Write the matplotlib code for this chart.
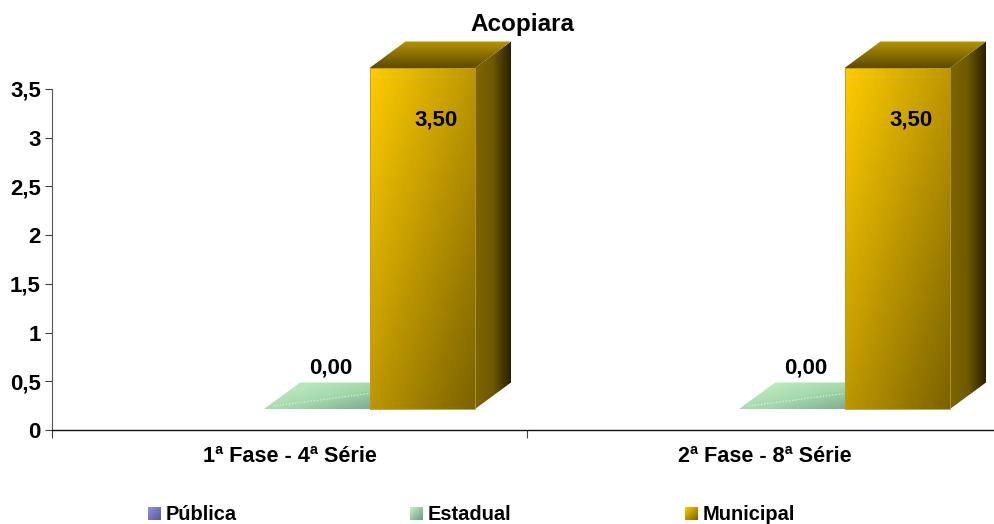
import numpy as np
import matplotlib
matplotlib.use("Agg")
import matplotlib.pyplot as plt
from matplotlib.colors import LinearSegmentedColormap, to_rgb
from matplotlib.patches import Polygon

categories = ["1ª Fase - 4ª Série", "2ª Fase - 8ª Série"]
series_names = ["Pública", "Estadual", "Municipal"]
publica = [None, None]
estadual = [0.0, 0.0]
municipal = [3.5, 3.5]
y_ticks = [0, 0.5, 1, 1.5, 2, 2.5, 3, 3.5]
y_labels = ["0", "0,5", "1", "1,5", "2", "2,5", "3", "3,5"]

plt.rcParams["font.family"] = ["Liberation Sans", "DejaVu Sans"]
plt.rcParams["font.weight"] = "bold"

W, H = 994, 524
X_PX = 475.0
Y_PX = 341.0 / 3.5
bar_w = 105.5 / X_PX
depth_x = 36 / X_PX
depth_y = 26.5 / Y_PX
floor_y = 21 / Y_PX
offsets = {"Pública": 0.3353, "Estadual": 0.5574, "Municipal": 0.7795}


def gradient(ax, points, colors, angle, zorder=3):
    # linear gradient clipped by a polygon, angle 0 = left to right
    pts = np.array(points)
    x0, x1 = pts[:, 0].min(), pts[:, 0].max()
    y0, y1 = pts[:, 1].min(), pts[:, 1].max()
    xx, yy = np.meshgrid(np.linspace(0, 1, 200), np.linspace(1, 0, 200))
    a = np.deg2rad(angle)
    g = xx * np.cos(a) + yy * np.sin(a)
    g = (g - g.min()) / (g.max() - g.min())
    cmap = LinearSegmentedColormap.from_list("g", colors)
    im = ax.imshow(g, extent=(x0, x1, y0, y1), cmap=cmap, aspect="auto",
                   zorder=zorder, interpolation="bilinear")
    poly = Polygon(points, closed=True, fill=False, edgecolor="none",
                   transform=ax.transData)
    ax.add_patch(poly)
    im.set_clip_path(poly)
    return im


def draw_bar(ax, left, value, front, side, top):
    right = left + bar_w
    base = floor_y
    tip = base + value
    if value > 0:
        gradient(ax, [(right, base), (right + depth_x, base + depth_y),
                      (right + depth_x, tip + depth_y), (right, tip)],
                 side, 0, zorder=4)
        gradient(ax, [(left, tip), (right, tip), (right + depth_x, tip + depth_y),
                      (left + depth_x, tip + depth_y)],
                 top, -90, zorder=4)
        gradient(ax, [(left, base), (right, base), (right, tip), (left, tip)],
                 front, -45, zorder=5)
        ax.plot([left, left, right, right, left], [base, tip, tip, base, base],
                color="#b89a30", lw=0.6, zorder=6, clip_on=False)
    else:
        gradient(ax, [(left, tip), (right, tip), (right + depth_x, tip + depth_y),
                      (left + depth_x, tip + depth_y)],
                 top, -35, zorder=3)
        ax.plot([left + 0.02, right], [tip + 0.03, tip + 0.16], color="#d4f0d4",
                lw=0.9, ls=(0, (1, 1.5)), zorder=3)


fig = plt.figure(figsize=(W / 100, H / 100), dpi=100)
ax = fig.add_axes([52 / W, (H - 430) / H, (W - 52) / W, 430 / H])

gold_front = ["#ffcc00", "#7a6200"]
gold_side = ["#806600", "#6e5800", "#2a2000"]
gold_top = ["#b89400", "#5c4a00"]
green_floor = ["#c8f2c8", "#a4d8ac", "#6e9a84"]

for i in range(len(categories)):
    if estadual[i] is not None:
        left = i + offsets["Estadual"] - bar_w / 2
        draw_bar(ax, left, estadual[i], None, None, green_floor)
        ax.text(left + bar_w * 0.63, floor_y + depth_y + 0.145,
                "{:.2f}".format(estadual[i]).replace(".", ","),
                ha="center", va="center", fontsize=16, zorder=7)
    if municipal[i] is not None:
        left = i + offsets["Municipal"] - bar_w / 2
        draw_bar(ax, left, municipal[i], gold_front, gold_side, gold_top)
        ax.text(left + bar_w * 0.635, floor_y + municipal[i] - 0.53,
                "{:.2f}".format(municipal[i]).replace(".", ","),
                ha="center", va="center", fontsize=16, zorder=7)

ax.set_xlim(0, (W - 52) / X_PX)
ax.set_ylim(0, 430 / Y_PX)
ax.patch.set_alpha(0)
for s in ["top", "right"]:
    ax.spines[s].set_visible(False)
ax.spines["left"].set_color("#555555")
ax.spines["left"].set_bounds(0, 3.5)
ax.spines["bottom"].set_color("#111111")
ax.spines["bottom"].set_linewidth(1.0)
ax.set_yticks(y_ticks)
ax.set_yticklabels(y_labels, fontsize=16, fontweight="bold")
ax.tick_params(axis="y", length=5, width=0.8, color="#444444", pad=3)
ax.set_xticks([0, 1])
ax.set_xticklabels(["", ""])
ax.tick_params(axis="x", length=6, width=0.8, color="#444444")
for i, c in enumerate(categories):
    ax.text(i + 0.5, -0.27, c, ha="center", va="center", fontsize=15.6)

fig.text(522 / W, 1 - 25 / H, "Acopiara", ha="center", va="center", fontsize=17.5)

swatches = [("#9090e4", "#5a5a9c"), ("#c8f2c8", "#6e9a84"), ("#ffcc00", "#7a6200")]
swatch_x = [148, 410, 685]
for name, x, cols in zip(series_names, swatch_x, swatches):
    sw = fig.add_axes([x / W, 1 - 520 / H, 13 / W, 13 / H])
    sw.axis("off")
    cm = LinearSegmentedColormap.from_list("s", [to_rgb(cols[0]), to_rgb(cols[1])])
    xx, yy = np.meshgrid(np.linspace(0, 1, 30), np.linspace(0, 1, 30))
    sw.imshow(xx + yy, cmap=cm, aspect="auto")
    fig.text((x + 18) / W, 1 - 514 / H, name, ha="left", va="center", fontsize=14.4)

fig.savefig("out.png", dpi=100)
